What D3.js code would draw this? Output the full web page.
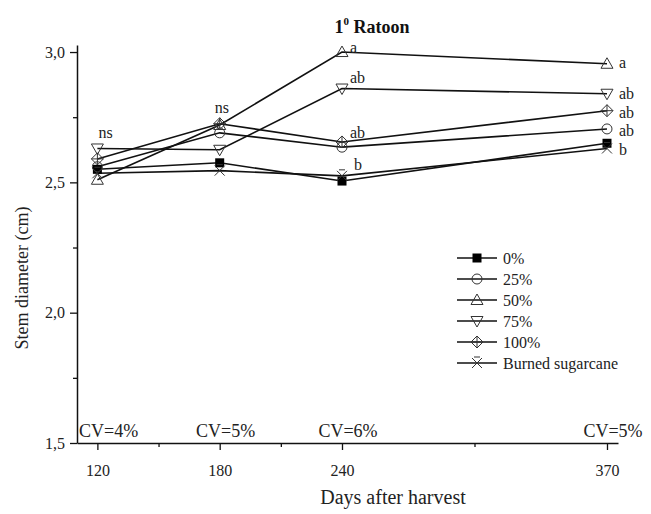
<!DOCTYPE html>
<html>
<head>
<meta charset="utf-8">
<script src="https://cdn.jsdelivr.net/npm/d3@7"></script>
<style>
  html, body { margin: 0; padding: 0; background: #fff; }
  svg { display: block; font-family: "Liberation Serif", "Times New Roman", serif; }
</style>
</head>
<body>
<svg id="chart" width="651" height="514"></svg>
<script>
// ---- data ----
const days = [120, 180, 240, 370];
const seriesNames = ["0%", "25%", "50%", "75%", "100%", "Burned sugarcane"];
const s0      = [2.55, 2.575, 2.505, 2.65];
const s25     = [2.56, 2.69, 2.635, 2.705];
const s50     = [2.51, 2.72, 3.00, 2.955];
const s75     = [2.63, 2.625, 2.86, 2.84];
const s100    = [2.59, 2.725, 2.655, 2.775];
const sBurned = [2.535, 2.545, 2.525, 2.63];
const yTicks = [1.5, 2.0, 2.5, 3.0];
const yMinor = [1.75, 2.25, 2.75];
const xTicks = [120, 180, 240, 370];
const xMinor = [150, 210, 305];
const cvDays = [120, 180, 240, 370];
const cvLabels = ["CV=4%", "CV=5%", "CV=6%", "CV=5%"];
// significance letters: day, value position, text
const letterDays   = [120, 180, 240, 240, 240, 240, 370, 370, 370, 370, 370];
const letterValues = [2.69, 2.785, 3.015, 2.90, 2.69, 2.567, 2.958, 2.839, 2.768, 2.697, 2.626];
const letterTexts  = ["ns", "ns", "a", "ab", "ab", "b", "a", "ab", "ab", "ab", "b"];

const allSeries = [s0, s25, s50, s75, s100, sBurned];
const symbols = ["square", "circle", "triUp", "triDown", "diamondPlus", "cross"];

// ---- layout ----
const svg = d3.select("#chart");
const x = d3.scaleLinear().domain([110, 375.4]).range([77, 618]);
const y = d3.scaleLinear().domain([1.5, 3.027]).range([443, 45]);

// axes
const fmt = v => d3.format(".1f")(v).replace(".", ",");
svg.append("g").attr("transform", "translate(77,0)")
  .call(d3.axisLeft(y).tickValues(yTicks).tickFormat(fmt).tickSize(7).tickPadding(5).tickSizeOuter(0));
svg.append("g").attr("transform", "translate(77,0)")
  .call(d3.axisLeft(y).tickValues(yMinor).tickFormat("").tickSize(4).tickSizeOuter(0))
  .select(".domain").remove();
svg.append("g").attr("transform", "translate(0,443)")
  .call(d3.axisBottom(x).tickValues(xTicks).tickFormat(d3.format("d")).tickSize(7).tickPadding(15).tickSizeOuter(0));
svg.append("g").attr("transform", "translate(0,443)")
  .call(d3.axisBottom(x).tickValues(xMinor).tickFormat("").tickSize(4).tickSizeOuter(0))
  .select(".domain").remove();
svg.selectAll(".domain").attr("stroke", "#111").attr("stroke-width", 1.5);
svg.selectAll(".tick line").attr("stroke", "#111").attr("stroke-width", 1.3);
svg.selectAll(".tick text").attr("font-size", 16).attr("fill", "#222")
  .attr("font-family", "Liberation Serif, serif");

// axis titles
svg.append("text").attr("x", 393).attr("y", 504).attr("text-anchor", "middle")
  .attr("font-size", 20).attr("fill", "#222").text("Days after harvest");
svg.append("text").attr("transform", "translate(28,278) rotate(-90)").attr("text-anchor", "middle")
  .attr("font-size", 18).attr("fill", "#222").text("Stem diameter (cm)");

// title
const title = svg.append("text").attr("x", 372).attr("y", 33).attr("text-anchor", "middle")
  .attr("font-size", 18).attr("font-weight", "bold").attr("fill", "#111");
title.append("tspan").text("1");
title.append("tspan").attr("font-size", 11).attr("dy", -8).text("0");
title.append("tspan").attr("dy", 8).text(" Ratoon");

// CV labels
cvDays.forEach((d, i) => {
  const t = svg.append("text").attr("y", 437).attr("font-size", 18).attr("fill", "#222")
    .attr("text-anchor", "middle").text(cvLabels[i]);
  const w = t.node().getComputedTextLength();
  let cx = x(d) + 6;
  cx = Math.max(cx, 79 + w / 2);
  cx = Math.min(cx, 650 - w / 2);
  t.attr("x", cx);
});

// marker drawing
function drawSymbol(g, type, cx, cy) {
  const st = "#333";
  if (type === "square") {
    g.append("rect").attr("x", cx - 4.5).attr("y", cy - 4.5).attr("width", 9).attr("height", 9)
      .attr("fill", "#000");
  } else if (type === "circle") {
    g.append("circle").attr("cx", cx).attr("cy", cy).attr("r", 5)
      .attr("fill", "none").attr("stroke", st).attr("stroke-width", 1);
  } else if (type === "triUp") {
    g.append("path").attr("d", `M${cx},${cy - 6}L${cx + 6},${cy + 4.5}L${cx - 6},${cy + 4.5}Z`)
      .attr("fill", "none").attr("stroke", st).attr("stroke-width", 1);
  } else if (type === "triDown") {
    g.append("path").attr("d", `M${cx},${cy + 6}L${cx + 6},${cy - 4.5}L${cx - 6},${cy - 4.5}Z`)
      .attr("fill", "none").attr("stroke", st).attr("stroke-width", 1);
  } else if (type === "diamondPlus") {
    g.append("path").attr("d", `M${cx},${cy - 6}L${cx + 6},${cy}L${cx},${cy + 6}L${cx - 6},${cy}Z M${cx},${cy - 6}V${cy + 6} M${cx - 6},${cy}H${cx + 6}`)
      .attr("fill", "none").attr("stroke", st).attr("stroke-width", 1);
  } else if (type === "cross") {
    g.append("path").attr("d", `M${cx - 5},${cy - 5}L${cx + 5},${cy + 5} M${cx - 5},${cy + 5}L${cx + 5},${cy - 5} M${cx - 3},${cy - 6}L${cx + 3},${cy - 6}`)
      .attr("fill", "none").attr("stroke", st).attr("stroke-width", 1);
  }
}

// lines + markers
const line = d3.line().x((d, i) => x(days[i])).y(d => y(d));
const plot = svg.append("g");
allSeries.forEach(s => {
  plot.append("path").datum(s).attr("d", line)
    .attr("fill", "none").attr("stroke", "#111").attr("stroke-width", 1.6);
});
allSeries.forEach((s, k) => {
  const g = plot.append("g");
  s.forEach((v, i) => drawSymbol(g, symbols[k], x(days[i]), y(v)));
});

// letters
letterTexts.forEach((t, i) => {
  const d = letterDays[i];
  let dx;
  if (t === "ns") dx = (d === 120) ? 1 : -5;
  else if (d === 240) dx = (t === "b") ? 12 : 8;
  else dx = 12;
  svg.append("text").attr("x", x(d) + dx).attr("y", y(letterValues[i])).attr("dy", "0.32em")
    .attr("font-size", 16).attr("fill", "#222").text(t);
});

// legend
const lg = svg.append("g");
seriesNames.forEach((n, i) => {
  const ly = 258 + i * 21;
  lg.append("line").attr("x1", 457).attr("x2", 497).attr("y1", ly).attr("y2", ly)
    .attr("stroke", "#111").attr("stroke-width", 1.6);
  drawSymbol(lg, symbols[i], 477, ly);
  lg.append("text").attr("x", 503).attr("y", ly).attr("dy", "0.35em")
    .attr("font-size", 16).attr("fill", "#222").text(n);
});
</script>
</body>
</html>
